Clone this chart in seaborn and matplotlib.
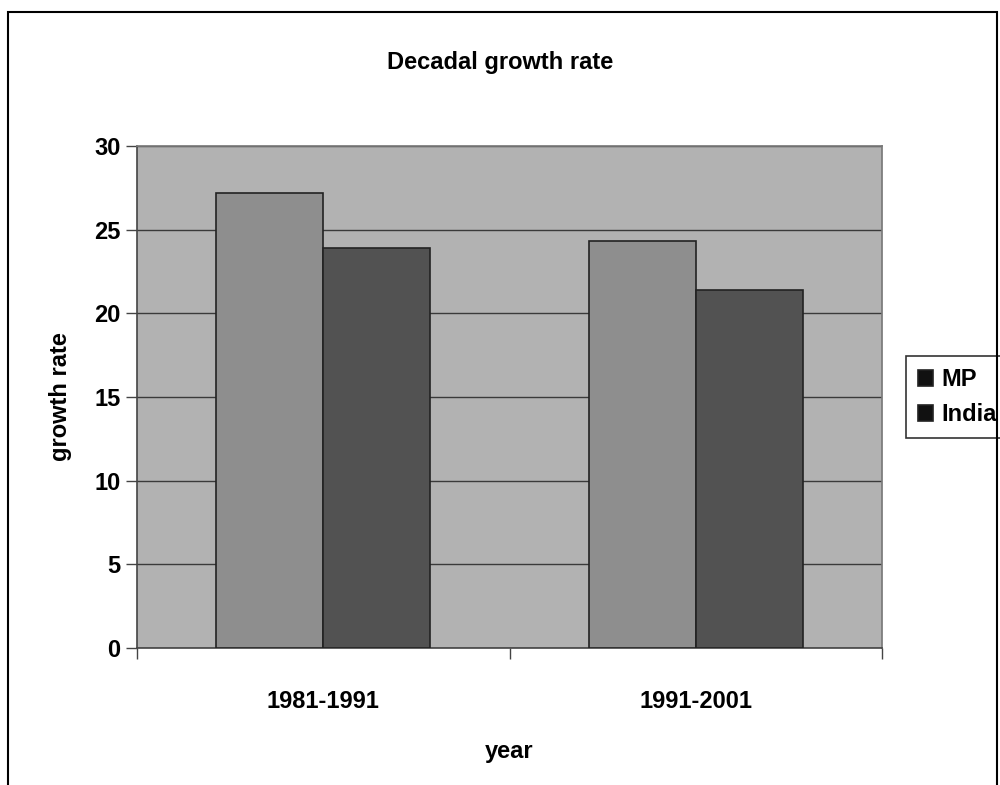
import numpy as np
import pandas as pd
import seaborn as sns
import matplotlib
import matplotlib.pyplot as plt
from matplotlib.patches import Rectangle

matplotlib.use("Agg")

years = ['1981-1991', '1991-2001']
regions = ['MP', 'India']
mp_rate = [27.2, 24.3]
india_rate = [23.9, 21.4]

df = pd.DataFrame({
    'year': years * 2,
    'region': ['MP'] * len(years) + ['India'] * len(years),
    'rate': mp_rate + india_rate,
})

sns.set_theme(style='white')
plt.rcParams['font.family'] = ['Liberation Sans', 'DejaVu Sans']
plt.rcParams['font.weight'] = 'bold'
plt.rcParams['text.color'] = 'black'
plt.rcParams['axes.labelcolor'] = 'black'
plt.rcParams['xtick.color'] = 'black'
plt.rcParams['ytick.color'] = 'black'

fig = plt.figure(figsize=(10, 7.85), dpi=100)
ax = fig.add_axes([0.137, 0.1745, 0.745, 0.6395])
ax.set_facecolor('#b2b2b2')

# outer chart frame
fig.patches.append(Rectangle((0.008, -0.02), 0.989, 1.005, transform=fig.transFigure,
                             fill=False, edgecolor='black', linewidth=1.5))

palette = {'MP': '#8e8e8e', 'India': '#525252'}
sns.barplot(data=df, x='year', y='rate', hue='region', hue_order=regions,
            palette=palette, width=0.574, edgecolor='#222222', linewidth=1.2,
            saturation=1, ax=ax, zorder=3)

ax.set_ylim(0, 30)
ax.set_xlim(-0.5, 1.5)
ax.set_yticks(np.arange(0, 31, 5))
ax.yaxis.grid(True, color='#3a3a3a', linewidth=1, zorder=0)
ax.set_axisbelow(True)

ax.set_xticks([-0.5, 0.5, 1.5], minor=True)
ax.tick_params(axis='x', which='major', length=0, pad=30, labelsize=17)
ax.tick_params(axis='x', which='minor', length=8, width=1, color='#444444', direction='out', bottom=True)
ax.tick_params(axis='y', length=8, width=1, color='#444444', direction='out', left=True, labelsize=17, pad=4)
for lab in ax.get_xticklabels() + ax.get_yticklabels():
    lab.set_fontweight('bold')

for side in ['top', 'right']:
    ax.spines[side].set_color('#7a7a7a')
for side in ['left', 'bottom']:
    ax.spines[side].set_color('#444444')
    ax.spines[side].set_linewidth(1.2)

ax.set_xlabel('year', fontsize=17, fontweight='bold', labelpad=20)
ax.set_ylabel('growth rate', fontsize=17, fontweight='bold', labelpad=16)
fig.text(0.5, 0.921, 'Decadal growth rate', ha='center', va='center', fontsize=17, fontweight='bold')

leg = ax.legend(loc='center left', bbox_to_anchor=(1.016, 0.5), frameon=True, fontsize=17,
                handlelength=0.65, handleheight=0.65, handletextpad=0.35, borderpad=0.5,
                labelspacing=0.5, fancybox=False, edgecolor='black')
leg.get_frame().set_linewidth(1.2)
for h in leg.legend_handles:
    h.set_facecolor('#111111')
for t in leg.get_texts():
    t.set_fontweight('bold')

fig.savefig('out.png', dpi=100, facecolor='white')
